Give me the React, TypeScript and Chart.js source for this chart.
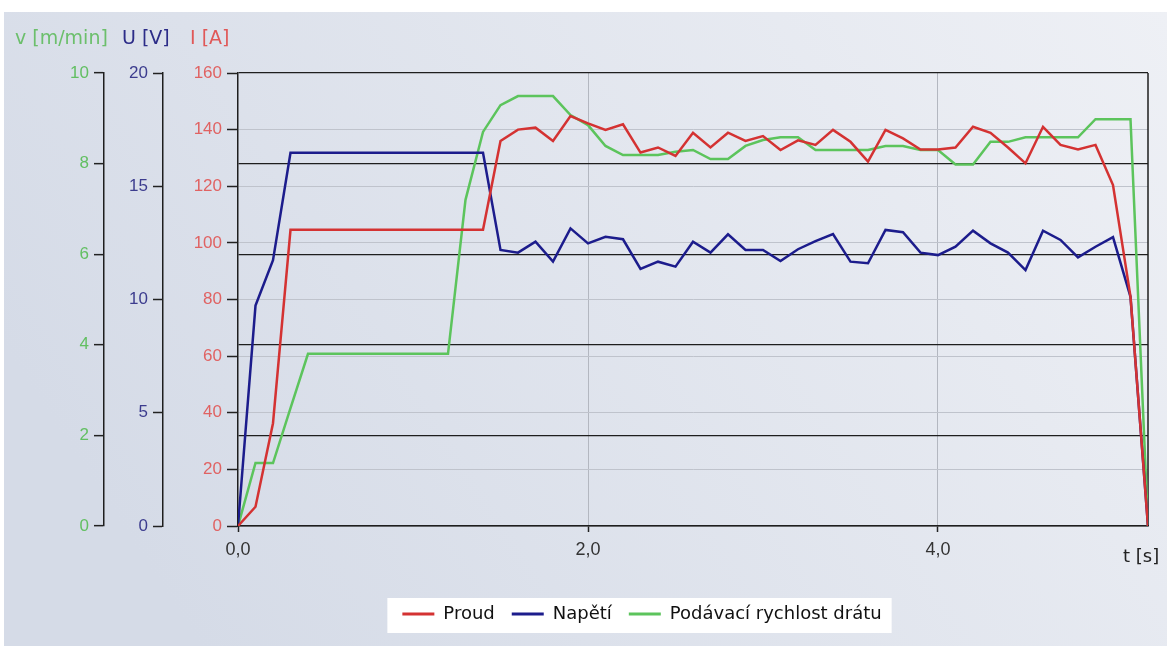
import { useEffect, useRef } from 'react';
import { Chart, registerables } from 'chart.js';

Chart.register(...registerables);

const TIME = [
  0.0, 0.1, 0.2, 0.3, 0.4, 0.5, 0.6, 0.7, 0.8, 0.9,
  1.0, 1.1, 1.2, 1.3, 1.4, 1.5, 1.6, 1.7, 1.8, 1.9,
  2.0, 2.1, 2.2, 2.3, 2.4, 2.5, 2.6, 2.7, 2.8, 2.9,
  3.0, 3.1, 3.2, 3.3, 3.4, 3.5, 3.6, 3.7, 3.8, 3.9,
  4.0, 4.1, 4.2, 4.3, 4.4, 4.5, 4.6, 4.7, 4.8, 4.9,
  5.0, 5.1, 5.2,
];

// Proud I [A]
const CURRENT = [
  0, 6.8, 36.3, 104.6, 104.6, 104.6, 104.6, 104.6, 104.6, 104.6,
  104.6, 104.6, 104.6, 104.6, 104.6, 136, 140, 140.7, 136, 144.8,
  142.2, 139.9, 141.9, 131.9, 133.7, 130.7, 138.9, 133.7, 138.9, 136,
  137.7, 132.8, 136.2, 134.6, 139.9, 135.7, 128.7, 139.9, 136.9, 133,
  133, 133.7, 141, 138.9, 133.7, 128.1, 141, 134.6, 133, 134.6,
  120.4, 81, 0,
];

// Napětí U [V]
const VOLTAGE = [
  0, 9.73, 11.74, 16.48, 16.48, 16.48, 16.48, 16.48, 16.48, 16.48,
  16.48, 16.48, 16.48, 16.48, 16.48, 12.19, 12.07, 12.55, 11.67, 13.14,
  12.48, 12.77, 12.66, 11.35, 11.67, 11.45, 12.55, 12.07, 12.88, 12.19,
  12.19, 11.7, 12.22, 12.58, 12.89, 11.67, 11.6, 13.07, 12.97, 12.07,
  11.96, 12.33, 13.04, 12.48, 12.07, 11.3, 13.04, 12.63, 11.86, 12.33,
  12.75, 10.12, 0,
];

// Podávací rychlost drátu v [m/min]
const SPEED = [
  0, 1.39, 1.39, 2.6, 3.8, 3.8, 3.8, 3.8, 3.8, 3.8,
  3.8, 3.8, 3.8, 7.2, 8.7, 9.29, 9.49, 9.49, 9.49, 9.07,
  8.85, 8.39, 8.19, 8.19, 8.19, 8.26, 8.3, 8.1, 8.1, 8.39,
  8.52, 8.58, 8.58, 8.3, 8.3, 8.3, 8.3, 8.39, 8.39, 8.3,
  8.3, 7.98, 7.98, 8.48, 8.48, 8.58, 8.58, 8.58, 8.58, 8.98,
  8.98, 8.98, 0,
];

const SERIES_NAMES = ['Proud', 'Napětí', 'Podávací rychlost drátu'];
const AXIS_TITLES = ['v [m/min]', 'U [V]', 'I [A]'];
const X_TITLE = 't [s]';

const RED = '#d43232';
const BLUE = '#1c1c8c';
const GREEN = '#5cc45c';

const WORD_FONT = '"DejaVu Sans", sans-serif';
const NUM_FONT = '"Liberation Sans", Arial, sans-serif';

const decorPlugin = {
  id: 'decor',
  afterLayout(chart: any) {
    const lg = chart.legend;
    if (lg) {
      lg.left = 136;
      lg.right = 1148;
      lg.width = 1012;
    }
  },
  beforeDraw(chart: any) {
    const { ctx, width, height } = chart;
    ctx.save();
    ctx.fillStyle = '#ffffff';
    ctx.fillRect(0, 0, width, height);
    const g = ctx.createLinearGradient(width, 12, 200, height);
    g.addColorStop(0, '#eef0f5');
    g.addColorStop(1, '#d5dbe7');
    ctx.fillStyle = g;
    ctx.fillRect(4, 12, width - 4, height - 12);
    const lg = chart.legend;
    if (lg && lg.legendHitBoxes && lg.legendHitBoxes.length) {
      const hb = lg.legendHitBoxes;
      const first = hb[0];
      const last = hb[hb.length - 1];
      const cy = first.top + first.height / 2;
      const left = first.left - 15;
      const right = last.left + last.width + 10;
      ctx.fillStyle = '#ffffff';
      ctx.fillRect(left, cy - 16, right - left, 35);
    }
    ctx.restore();
  },
  beforeDatasetsDraw(chart: any) {
    const { ctx, chartArea } = chart;
    ctx.save();
    ctx.strokeStyle = '#1e1e1e';
    ctx.lineWidth = 1.5;
    ctx.beginPath();
    ctx.moveTo(chartArea.right, chartArea.top);
    ctx.lineTo(chartArea.right, chartArea.bottom);
    ctx.stroke();
    ctx.restore();
  },
  afterDraw(chart: any) {
    const { ctx } = chart;
    ctx.save();
    ctx.font = `19px ${WORD_FONT}`;
    ctx.textBaseline = 'middle';
    ctx.textAlign = 'left';
    ctx.fillStyle = '#6cbf6c';
    ctx.fillText(AXIS_TITLES[0], 15, 39);
    ctx.fillStyle = '#2c2c88';
    ctx.fillText(AXIS_TITLES[1], 122, 39);
    ctx.fillStyle = '#e05858';
    ctx.fillText(AXIS_TITLES[2], 190, 39);
    ctx.font = `18px ${WORD_FONT}`;
    ctx.fillStyle = '#222222';
    ctx.fillText(X_TITLE, 1123, 557);
    ctx.restore();
  },
};

export default function App() {
  const ref = useRef<HTMLCanvasElement | null>(null);

  useEffect(() => {
    if (!ref.current) return;
    const toPts = (vals: number[]) => TIME.map((t, i) => ({ x: t, y: vals[i] }));
    const chart = new Chart(ref.current, {
      type: 'line',
      data: {
        datasets: [
          {
            label: SERIES_NAMES[0],
            data: toPts(CURRENT),
            yAxisID: 'yI',
            borderColor: RED,
            backgroundColor: RED,
            borderWidth: 2.5,
            pointRadius: 0,
            tension: 0,
          },
          {
            label: SERIES_NAMES[1],
            data: toPts(VOLTAGE),
            yAxisID: 'yU',
            borderColor: BLUE,
            backgroundColor: BLUE,
            borderWidth: 2.5,
            pointRadius: 0,
            tension: 0,
          },
          {
            label: SERIES_NAMES[2],
            data: toPts(SPEED),
            yAxisID: 'yV',
            borderColor: GREEN,
            backgroundColor: GREEN,
            borderWidth: 2.5,
            pointRadius: 0,
            tension: 0,
          },
        ],
      },
      options: {
        responsive: false,
        animation: false,
        events: [],
        layout: { padding: { left: 44, right: 19, top: 73, bottom: 13 } },
        plugins: {
          tooltip: { enabled: false },
          title: { display: false },
          legend: {
            position: 'bottom',
            labels: {
              boxWidth: 32,
              boxHeight: 3,
              padding: 17,
              color: '#111111',
              font: { family: WORD_FONT, size: 18 },
              generateLabels: (c: any) => {
                const items = (Chart.defaults.plugins.legend.labels as any).generateLabels(c);
                return items.map((it: any) => ({ ...it, fillStyle: it.strokeStyle, lineWidth: 0 }));
              },
            },
          },
        },
        scales: {
          x: {
            type: 'linear',
            min: 0,
            max: 5.2,
            afterFit: (s: any) => { s.height = 62; },
            grid: {
              color: (c: any) => (c.tick && c.tick.value === 0 ? 'rgba(0,0,0,0)' : '#b3b7c0'),
              lineWidth: 1,
              tickColor: '#222222',
              tickLength: 6,
              tickWidth: 1.5,
            },
            border: { display: true, color: '#1e1e1e', width: 1.5 },
            ticks: {
              stepSize: 2,
              includeBounds: false,
              padding: 7,
              maxRotation: 0,
              color: '#333333',
              font: { family: NUM_FONT, size: 18 },
              callback: (v: any) => Number(v).toFixed(1).replace('.', ','),
            },
          },
          yI: {
            type: 'linear',
            position: 'left',
            weight: 0,
            min: 0,
            max: 160,
            afterFit: (s: any) => { s.width = 75; },
            grid: {
              color: (c: any) => (c.tick && (c.tick.value === 0 || c.tick.value === 160) ? 'rgba(0,0,0,0)' : '#bfc3cc'),
              lineWidth: 1,
              tickColor: '#222222',
              tickLength: 11,
              tickWidth: 1.5,
            },
            border: { display: true, color: '#1e1e1e', width: 1.5 },
            ticks: {
              stepSize: 20,
              padding: 5,
              color: '#e06262',
              font: { family: NUM_FONT, size: 17 },
            },
          },
          yU: {
            type: 'linear',
            position: 'left',
            weight: 1,
            min: 0,
            max: 20,
            afterFit: (s: any) => { s.width = 59; },
            grid: {
              drawOnChartArea: false,
              color: '#222222',
              tickColor: '#222222',
              tickLength: 10,
              tickWidth: 1.5,
            },
            border: { display: true, color: '#1e1e1e', width: 1.5 },
            ticks: {
              stepSize: 5,
              padding: 5,
              color: '#3c3c8e',
              font: { family: NUM_FONT, size: 17 },
            },
          },
          yV: {
            type: 'linear',
            position: 'left',
            weight: 2,
            min: 0,
            max: 10,
            afterFit: (s: any) => { s.width = 60; },
            grid: {
              color: '#1e1e1e',
              lineWidth: 1.3,
              tickColor: '#222222',
              tickLength: 10,
              tickWidth: 1.5,
            },
            border: { display: true, color: '#1e1e1e', width: 1.5 },
            ticks: {
              stepSize: 2,
              padding: 5,
              color: '#62bf62',
              font: { family: NUM_FONT, size: 17 },
            },
          },
        },
      } as any,
      plugins: [decorPlugin as any],
    });
    return () => chart.destroy();
  }, []);

  return (
    <div style={{ position: 'absolute', left: 0, top: 0, width: 1167, height: 646 }}>
      <canvas ref={ref} width={1167} height={646} />
    </div>
  );
}
